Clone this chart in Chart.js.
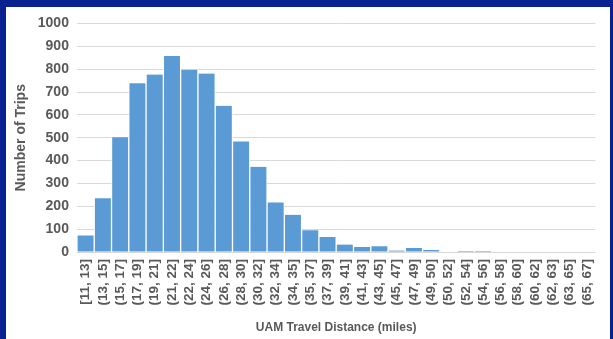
<!DOCTYPE html>
<html>
<head>
<meta charset="utf-8">
<script src="https://cdn.jsdelivr.net/npm/chart.js@4"></script>
<style>
  html, body { margin: 0; padding: 0; }
  body { width: 613px; height: 339px; background: #0a2191; position: relative; overflow: hidden; }
  .panel { position: absolute; left: 6px; top: 7px; width: 604px; height: 332px; background: #ffffff; }
</style>
</head>
<body>
<div class="panel"><canvas id="trips" width="604" height="332"></canvas></div>
<script>
/* ─── Data ───────────────────────────────────────────────────────────────── */
const bins = [
  '[11, 13]', '(13, 15]', '(15, 17]', '(17, 19]', '(19, 21]', '(21, 22]',
  '(22, 24]', '(24, 26]', '(26, 28]', '(28, 30]', '(30, 32]', '(32, 34]',
  '(34, 35]', '(35, 37]', '(37, 39]', '(39, 41]', '(41, 43]', '(43, 45]',
  '(45, 47]', '(47, 49]', '(49, 50]', '(50, 52]', '(52, 54]', '(54, 56]',
  '(56, 58]', '(58, 60]', '(60, 62]', '(62, 63]', '(63, 65]', '(65, 67]'
];
const trips = [
  73, 235, 502, 738, 776, 857,
  797, 781, 640, 484, 373, 217,
  163, 95, 66, 33, 22, 25,
  7, 18, 9, 3, 5, 5,
  0, 0, 0, 0, 0, 0
];
const yTicks = [0, 100, 200, 300, 400, 500, 600, 700, 800, 900, 1000];

/* ─── Chart ──────────────────────────────────────────────────────────────── */
const grey = '#595959';
const font = 'Arial, "Liberation Sans", sans-serif';

new Chart(document.getElementById('trips'), {
  type: 'bar',
  data: {
    labels: bins,
    datasets: [{
      data:               trips,
      backgroundColor:    '#5b9bd5',
      borderColor:        'rgba(255,255,255,0.85)',
      borderWidth:        { left: 1, right: 1, top: 0, bottom: 0 },
      borderSkipped:      false,
      categoryPercentage: 1,
      barPercentage:      1
    }]
  },
  options: {
    responsive: false,
    animation: false,
    devicePixelRatio: 1,
    layout: { padding: { left: 0, right: 1, top: 10, bottom: 0 } },
    plugins: { legend: { display: false }, tooltip: { enabled: false } },
    scales: {
      x: {
        grid:   { display: false, drawTicks: false },
        border: { display: false },
        ticks: {
          color: grey, font: { family: font, size: 13.5, weight: 'bold' },
          minRotation: 90, maxRotation: 90, padding: 7, autoSkip: false
        },
        title: {
          display: true, text: 'UAM Travel Distance (miles)', color: grey,
          font: { family: font, size: 12, weight: 'bold' },
          padding: { top: 8, bottom: 4 }
        }
      },
      y: {
        min: 0, max: 1000,
        afterBuildTicks: axis => { axis.ticks = yTicks.map(v => ({ value: v })); },
        grid:   { color: '#d9d9d9', drawTicks: false },
        border: { display: false },
        ticks: {
          color: grey, font: { family: font, size: 14, weight: 'bold' },
          padding: 8, autoSkip: false, callback: v => String(v)
        },
        title: {
          display: true, text: 'Number of Trips', color: grey,
          font: { family: font, size: 14, weight: 'bold' },
          padding: { top: 7, bottom: 0 }
        }
      }
    }
  }
});
</script>
</body>
</html>
